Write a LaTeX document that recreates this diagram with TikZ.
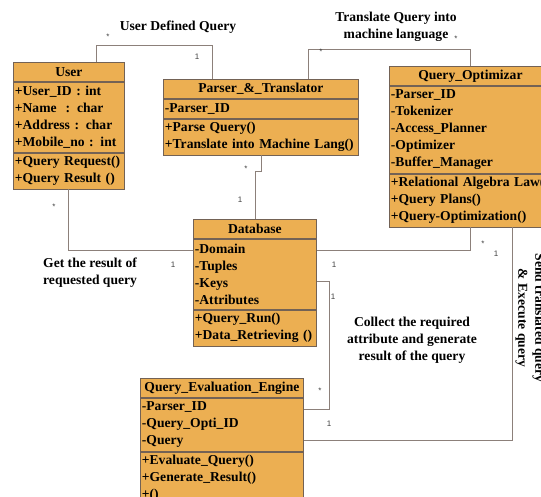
\documentclass[tikz,border=0pt]{standalone}
\usepackage{fontspec}
\setmainfont{Liberation Serif}
\setsansfont{Liberation Sans}
\usetikzlibrary{positioning,calc}

\definecolor{classfill}{RGB}{236,175,82}
\definecolor{classline}{RGB}{115,98,85}
\definecolor{linkline}{RGB}{140,128,122}

\tikzset{
  cbox/.style={draw=classline, fill=classfill, line width=0.8pt, inner xsep=1.5pt, inner ysep=1pt,
    font=\bfseries\fontsize{13.6}{17}\selectfont},
  ctitle/.style={cbox, minimum width=#1, minimum height=19pt, align=center, anchor=north west},
  cpart/.style={cbox, text width=#1, align=left},
  link/.style={draw=linkline, line width=1pt},
  mult/.style={font=\sffamily\fontsize{8}{9}\selectfont, text=black!75, inner sep=0pt},
  note/.style={font=\bfseries\fontsize{13.6}{17}\selectfont, inner sep=0pt}
}

\begin{document}
\begin{tikzpicture}[x=1pt,y=-1pt]
  \useasboundingbox (0,0) rectangle (541,497);

  % classes
  \node[ctitle=111pt] (user) at (13,62) {User};
  \node[cpart=108pt, minimum height=70pt, below=0pt of user] (user attrs)
    {+User\_ID : int\\+Name~ : char\\+Address : char\\+Mobile\_no : int};
  \node[cpart=108pt, minimum height=36pt, below=0pt of user attrs] (user ops)
    {+Query Request()\\+Query Result ()};

  \node[ctitle=195pt] (parser) at (163,79) {Parser\_\&\_Translator};
  \node[cpart=192pt, minimum height=19pt, below=0pt of parser] (parser attrs) {-Parser\_ID};
  \node[cpart=192pt, minimum height=36pt, below=0pt of parser attrs] (parser ops)
    {+Parse Query()\\+Translate into Machine Lang()};

  \node[ctitle=162pt] (optimizer) at (389,66) {Query\_Optimizar};
  \node[cpart=159pt, minimum height=87pt, below=0pt of optimizer] (optimizer attrs)
    {-Parser\_ID\\-Tokenizer\\-Access\_Planner\\-Optimizer\\-Buffer\_Manager};
  \node[cpart=159pt, minimum height=53pt, below=0pt of optimizer attrs] (optimizer ops)
    {+Relational Algebra Law()\\+Query Plans()\\+Query-Optimization()};

  \node[ctitle=123pt] (database) at (193,219) {Database};
  \node[cpart=120pt, minimum height=70pt, below=0pt of database] (database attrs)
    {-Domain\\-Tuples\\-Keys\\-Attributes};
  \node[cpart=120pt, minimum height=36pt, below=0pt of database attrs] (database ops)
    {+Query\_Run()\\+Data\_Retrieving ()};

  \node[ctitle=163pt] (engine) at (140,378) {Query\_Evaluation\_Engine};
  \node[cpart=160pt, minimum height=53pt, below=0pt of engine] (engine attrs)
    {-Parser\_ID\\-Query\_Opti\_ID\\-Query};
  \node[cpart=160pt, minimum height=53pt, below=0pt of engine attrs] (engine ops)
    {+Evaluate\_Query()\\+Generate\_Result()\\+()};

  % associations
  \draw[link] ($(user.north west)+(83,0)$) -- ++(0,-16) -| ($(parser.north west)+(49,0)$);
  \draw[link] ($(parser.north west)+(145,0)$) -- ++(0,-29) -| ($(optimizer.north west)+(81,0)$);
  \draw[link] ($(parser ops.south west)+(98,0)$) -- ++(0,16) -| ($(database.north west)+(62,0)$);
  \draw[link] ($(user ops.south west)+(55,0)$) |- ($(database attrs.north west)+(0,12)$);
  \draw[link] ($(optimizer ops.south west)+(81,0)$) |- ($(database attrs.north east)+(0,12)$);
  \draw[link] ($(database attrs.north east)+(0,43)$) -- ++(13,0) |- ($(engine attrs.north east)+(0,12)$);
  \draw[link] ($(optimizer ops.south west)+(123,0)$) |- ($(engine attrs.north east)+(0,43)$);

  % multiplicities
  \node[mult] (m1) at (108,37) {*};
  \node[mult] (m2) at (197,57) {1};
  \node[mult] (m3) at (321,52) {*};
  \node[mult] (m4) at (456,39) {*};
  \node[mult] (m5) at (246,169) {*};
  \node[mult] (m6) at (240,200) {1};
  \node[mult] (m7) at (54,207) {*};
  \node[mult] (m8) at (173,265) {1};
  \node[mult] (m9) at (483,244) {*};
  \node[mult] (m10) at (496,254) {1};
  \node[mult] (m11) at (334,265) {1};
  \node[mult] (m12) at (333,297) {1};
  \node[mult] (m13) at (320,391) {*};
  \node[mult] (m14) at (329,424) {1};

  % association names
  \node[note] (q1) at (178,27) {User Defined Query};
  \node[note, align=center] (q2) at (396,27) {Translate Query into\\machine language};
  \node[note, align=left, anchor=west] (q3) at (43,273) {Get the result of\\requested query};
  \node[note, align=center] (q4) at (412,340) {Collect the required\\attribute and generate\\result of the query};
  \node[note, align=center, rotate=-90] (q5) at (530,318) {Send translated query\\\& Execute query};
\end{tikzpicture}
\end{document}
